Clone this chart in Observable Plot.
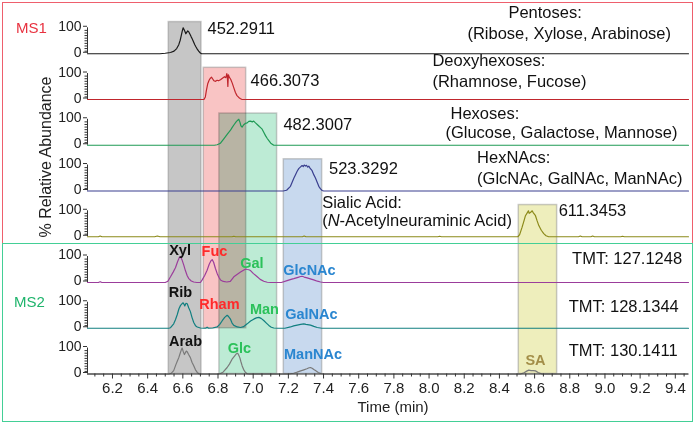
<!DOCTYPE html>
<html><head><meta charset="utf-8">
<script src="https://cdn.jsdelivr.net/npm/d3@7"></script>
<script src="https://cdn.jsdelivr.net/npm/@observablehq/plot@0.6"></script>
<style>
html,body{margin:0;padding:0;background:#fff;}
#wrap{position:relative;width:695px;height:424px;font-family:Arial,"Liberation Sans",sans-serif;overflow:hidden;background:#fff}
#chart{position:absolute;left:0;top:0}
.box{position:absolute;box-sizing:border-box;pointer-events:none}
.lbl{position:absolute;white-space:nowrap;line-height:1}
</style></head><body>
<div id="wrap">
<div id="chart"></div>
<div class="box" style="left:2px;top:2px;width:691px;height:242px;border:1.5px solid #ee5f6d"></div>
<div class="box" style="left:2px;top:243px;width:691px;height:179px;border:1.5px solid #43cf96"></div>
<div class="lbl" style="left:16px;top:20px;font-size:15px;color:#e8313f">MS1</div>
<div class="lbl" style="left:14px;top:294px;font-size:15px;color:#1fb46c">MS2</div>
<div class="lbl" style="left:46px;top:157px;font-size:16px;color:#222;transform:translate(-50%,-50%) rotate(-90deg)">% Relative Abundance</div>
<div class="lbl" style="left:393px;top:399px;font-size:15px;color:#222;transform:translateX(-50%)">Time (min)</div>
</div>
<script>
// ---------- data ----------
const traceNames = ["452.2911", "466.3073", "482.3007", "523.3292", "611.3453", "TMT: 127.1248", "TMT: 128.1344", "TMT: 130.1411"];

// [time (min), % relative abundance]
const ms1_452 = [[6.47,0],[6.50,2],[6.53,5],[6.55,10],[6.565,20],[6.577,35],[6.585,52],[6.591,70],[6.597,88],[6.602,100],[6.607,93],[6.612,86],[6.617,77],[6.622,82],[6.628,88],[6.634,84],[6.64,76],[6.647,66],[6.653,58],[6.66,47],[6.668,35],[6.675,26],[6.682,18],[6.69,10],[6.698,4],[6.706,0]];
const ms1_466 = [[6.72,0],[6.728,10],[6.734,35],[6.742,62],[6.75,75],[6.757,82],[6.763,86],[6.769,80],[6.777,72],[6.786,70],[6.795,74],[6.803,72],[6.814,76],[6.825,82],[6.837,88],[6.845,84],[6.85,100],[6.853,90],[6.856,50],[6.859,95],[6.864,86],[6.872,78],[6.881,63],[6.89,45],[6.899,27],[6.908,15],[6.918,8],[6.928,3],[6.937,0]];
const ms1_482 = [[6.78,0],[6.795,2],[6.814,8],[6.833,25],[6.852,42],[6.871,58],[6.88,68],[6.89,78],[6.905,92],[6.918,100],[6.925,88],[6.93,75],[6.937,70],[6.945,78],[6.955,84],[6.966,86],[6.975,92],[6.985,93],[6.995,90],[7.003,93],[7.013,86],[7.023,80],[7.035,72],[7.045,66],[7.051,62],[7.06,50],[7.07,37],[7.08,26],[7.089,18],[7.1,8],[7.117,0]];
const ms1_523 = [[7.17,0],[7.19,3],[7.212,18],[7.231,49],[7.24,62],[7.25,76],[7.259,86],[7.268,92],[7.278,98],[7.285,94],[7.29,100],[7.297,96],[7.303,99],[7.31,92],[7.316,96],[7.323,88],[7.335,78],[7.345,62],[7.354,50],[7.365,32],[7.373,18],[7.383,8],[7.392,2],[7.401,0]];
const ms1_611 = [[6.12,0],[6.13,3],[6.14,0],[6.44,0],[6.455,3],[6.47,0],[6.88,0],[6.89,2],[6.9,0],[7.28,0],[7.29,3],[7.3,0],[8.05,0],[8.06,2],[8.07,0],
  [8.505,0],[8.515,8],[8.529,37],[8.54,62],[8.548,81],[8.558,92],[8.565,100],[8.569,90],[8.576,93],[8.582,97],[8.586,100],[8.593,92],[8.605,81],[8.614,62],[8.624,43],[8.638,25],[8.652,12],[8.665,4],[8.68,0],
  [8.85,0],[8.86,3],[8.87,0],[8.92,0],[8.93,3],[8.94,0],[9.09,0],[9.1,2],[9.11,0]];
const tmt_127 = [[6.12,0],[6.13,3],[6.14,0],
  [6.50,0],[6.515,5],[6.53,22],[6.545,40],[6.558,57],[6.57,80],[6.58,96],[6.587,100],[6.595,88],[6.605,68],[6.615,45],[6.625,26],[6.634,15],[6.648,6],[6.662,2],[6.68,0],
  [6.70,0],[6.71,10],[6.725,28],[6.738,47],[6.75,70],[6.76,84],[6.767,88],[6.775,78],[6.785,55],[6.795,35],[6.805,20],[6.814,10],[6.83,4],[6.85,2],
  [6.87,4],[6.89,22],[6.91,32],[6.928,40],[6.945,47],[6.958,52],[6.966,50],[6.975,49],[6.985,46],[7.0,35],[7.023,22],[7.04,12],[7.06,5],[7.08,1],[7.1,0],
  [7.16,0],[7.193,7],[7.215,12],[7.231,15],[7.255,20],[7.27,23],[7.278,24],[7.29,21],[7.307,18],[7.325,14],[7.344,10],[7.365,5],[7.383,2],[7.4,0]];
const tmt_128 = [[6.52,0],[6.53,2],[6.548,17],[6.558,33],[6.568,52],[6.578,75],[6.587,88],[6.595,94],[6.602,98],[6.607,92],[6.611,86],[6.618,96],[6.625,94],[6.634,78],[6.643,64],[6.652,42],[6.662,22],[6.672,10],[6.682,5],[6.7,1],[6.72,0],
  [6.73,0],[6.738,4],[6.746,0],
  [6.77,1],[6.795,5],[6.81,15],[6.824,29],[6.838,42],[6.852,50],[6.86,45],[6.871,35],[6.88,20],[6.89,11],[6.91,5],[6.928,3],
  [6.945,6],[6.966,17],[6.985,28],[7.003,35],[7.018,40],[7.032,42],[7.045,38],[7.06,30],[7.075,20],[7.089,11],[7.103,4],[7.117,1],[7.14,0],
  [7.18,0],[7.212,5],[7.23,9],[7.25,12],[7.27,15],[7.288,17],[7.3,15],[7.326,12],[7.345,7],[7.364,3],[7.39,0]];
const tmt_130 = [[6.52,0],[6.535,3],[6.548,13],[6.56,35],[6.57,52],[6.577,63],[6.585,80],[6.591,92],[6.596,100],[6.602,87],[6.609,75],[6.616,84],[6.62,88],[6.625,86],[6.632,76],[6.643,63],[6.652,45],[6.662,32],[6.672,16],[6.682,6],[6.691,1],[6.7,0],
  [6.80,0],[6.814,2],[6.83,8],[6.852,25],[6.865,38],[6.88,57],[6.895,70],[6.905,78],[6.912,80],[6.918,72],[6.924,63],[6.93,48],[6.937,32],[6.945,18],[6.955,7],[6.966,1],[6.98,0],
  [7.2,0],[7.23,3],[7.25,7],[7.27,12],[7.288,16],[7.305,20],[7.318,24],[7.326,25],[7.335,22],[7.345,17],[7.354,13],[7.37,6],[7.385,2],[7.4,0],
  [8.52,0],[8.54,5],[8.555,11],[8.567,15],[8.58,13],[8.592,13],[8.605,12],[8.62,6],[8.643,0]];
const traces = [ms1_452, ms1_466, ms1_482, ms1_523, ms1_611, tmt_127, tmt_128, tmt_130];

// retention-time windows (min) and the traces (panel index) they span
const bandNames = ["Pentoses", "Deoxyhexoses", "Hexoses", "HexNAcs", "Sialic Acid"];
const bandStart = [6.52, 6.719, 6.808, 7.174, 8.51];
const bandEnd = [6.706, 6.96, 7.136, 7.392, 8.728];
const bandFirstPanel = [0, 1, 2, 3, 4];
const bandLastPanel = [7, 6, 7, 7, 7];

// sugar identifications in MS2 traces
const sugarNames = ["Xyl", "Fuc", "Gal", "GlcNAc", "Rib", "Rham", "Man", "GalNAc", "Arab", "Glc", "ManNAc", "SA"];
const sugarClass = [0, 1, 2, 3, 0, 1, 2, 3, 0, 2, 3, 4];
const sugarPanel = [5, 5, 5, 5, 6, 6, 6, 6, 7, 7, 7, 7];

const groupTitles = ["Pentoses:", "Deoxyhexoses:", "Hexoses:", "HexNAcs:", "Sialic Acid:"];
const groupMembers = ["(Ribose, Xylose, Arabinose)", "(Rhamnose, Fucose)", "(Glucose, Galactose, Mannose)", "(GlcNAc, GalNAc, ManNAc)", "(N-Acetylneuraminic Acid)"];

const xTicks = d3.range(6.2, 9.401, 0.2);
const yTickValues = [0, 100];

// ---------- layout / style ----------
const xDomain = [6.058, 9.475];
const PITCH = 176;
const base = i => (7 - i) * PITCH;
const BAND_TOP = 122;
const traceColors = ["#1a1a1a", "#c0262d", "#1f9a55", "#3a3f8f", "#8c8a1a", "#9b3d9b", "#117f80", "#7a7a7a"];
const bandFills = ["#c6c6c6", "#f9c4c4", "#bdebd5", "#c8d9ee", "#eeeebc"];
const classColors = ["#111111", "#ff2a2a", "#2bc15a", "#2a86d0", "#a38e48"];

// annotation placement: [time, % within panel]
const mzPos = [[6.74, 95], [6.985, 73], [7.172, 80], [7.431, 87], [8.737, 99], [8.813, 91], [8.794, 84], [8.794, 90]];
// [title time, title %, members time, members %]
const titlePos = [[8.451, 157, 8.218, 76], [8.019, 148, 8.019, 68], [8.122, 122, 8.093, 47], [8.273, 130, 8.273, 48], [7.392, 132, 7.392, 63]];
const sugarPos = [[6.584,125],[6.78,119],[6.993,75],[7.32,46],[6.587,140],[6.808,91],[7.064,72],[7.331,53],[6.615,125],[6.922,100],[7.34,75],[8.605,52]];

const fullTrace = (arr) => [[xDomain[0], 0], ...arr, [xDomain[1], 0]];

const marks = [];
// bands (multiply so overlaps darken)
bandNames.forEach((n, k) => {
  marks.push(Plot.rect([k], {
    x1: () => bandStart[k], x2: () => bandEnd[k],
    y1: () => base(bandLastPanel[k]), y2: () => base(bandFirstPanel[k]) + BAND_TOP,
    fill: bandFills[k], stroke: "#8a8a8a", strokeOpacity: 0.45, strokeWidth: 1.5,
    mixBlendMode: "multiply"
  }));
});
// y axes per panel
marks.push(Plot.ruleX(d3.range(8), {x: () => xDomain[0], y1: i => base(i), y2: i => base(i) + 100, stroke: "#333", strokeWidth: 1}));
const majorY = d3.range(8).flatMap(i => yTickValues.map(v => base(i) + v));
const minorY = d3.range(8).flatMap(i => d3.range(10, 100, 10).map(v => base(i) + v));
marks.push(Plot.axisY({ticks: majorY, tickSize: 4, tickPadding: 2, tickFormat: d => String(d % PITCH), fontSize: 14, label: null, stroke: "#333", fill: "#222", dy: -1.5}));
marks.push(Plot.axisY({ticks: minorY, tickSize: 2.5, tickFormat: () => "", fill: "none", label: null, stroke: "#333"}));
// traces
traces.forEach((arr, i) => {
  marks.push(Plot.line(fullTrace(arr), {x: d => d[0], y: d => base(i) + d[1], stroke: traceColors[i], strokeWidth: 1.2}));
});
// x axis
marks.push(Plot.ruleY([0], {stroke: "#333", strokeWidth: 1.2}));
const minorX = d3.range(6.1, 9.46, 0.05).filter(v => Math.abs(Math.round(v * 5) - v * 5) > 1e-6);
marks.push(Plot.axisX({ticks: xTicks, tickSize: 5, tickPadding: 3, tickFormat: d3.format(".1f"), fontSize: 15, label: null, stroke: "#333", fill: "#222"}));
marks.push(Plot.axisX({ticks: minorX, tickSize: 3, tickFormat: () => "", fill: "none", label: null, stroke: "#333"}));
// m/z and TMT labels
marks.push(Plot.text(traceNames.map((s, i) => ({s, i})), {
  x: d => mzPos[d.i][0], y: d => base(d.i) + mzPos[d.i][1], text: "s",
  textAnchor: "start", fontSize: 16.5, fill: "#111"
}));
// group titles
marks.push(Plot.text(groupTitles.map((s, k) => ({s, k})), {
  x: d => titlePos[d.k][0], y: d => base(d.k) + titlePos[d.k][1], text: "s",
  textAnchor: "start", fontSize: 16.5, fill: "#111"
}));
marks.push(Plot.text(groupMembers.map((s, k) => ({s, k})), {
  x: d => titlePos[d.k][2], y: d => base(d.k) + titlePos[d.k][3], text: "s",
  textAnchor: "start", fontSize: 16.5, fill: "#111"
}));
// sugar labels
sugarNames.forEach((s, j) => {
  marks.push(Plot.text([s], {
    x: () => sugarPos[j][0], y: () => base(sugarPanel[j]) + sugarPos[j][1], text: d => d,
    textAnchor: "middle", fontSize: 14.5, fontWeight: "bold", fill: classColors[sugarClass[j]]
  }));
});

const chart = Plot.plot({
  width: 695, height: 424,
  marginLeft: 87, marginRight: 7, marginTop: 20, marginBottom: 50.5,
  x: {domain: xDomain, label: null},
  y: {domain: [0, 1360], label: null},
  style: {fontFamily: "Arial, 'Liberation Sans', sans-serif", background: "transparent", overflow: "visible"},
  marks
});
// italic N
const ns = "http://www.w3.org/2000/svg";
chart.querySelectorAll("text").forEach(t => {
  if (t.textContent === "(N-Acetylneuraminic Acid)") {
    const target = t.querySelector("tspan") || t;
    target.textContent = "";
    [["(", null], ["N", "italic"], ["-Acetylneuraminic Acid)", null]].forEach(([s, st]) => {
      const sp = document.createElementNS(ns, "tspan");
      sp.textContent = s;
      if (st) sp.setAttribute("font-style", st);
      target.appendChild(sp);
    });
  }
});
document.getElementById("chart").appendChild(chart);
</script>
</body></html>
